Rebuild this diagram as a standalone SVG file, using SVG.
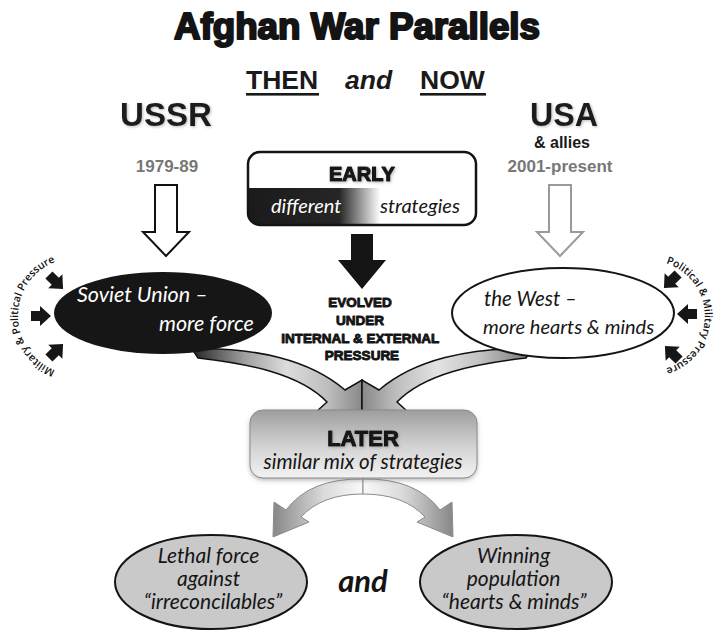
<svg xmlns="http://www.w3.org/2000/svg" width="715" height="631" viewBox="0 0 715 631">
<defs>
<style>
.heavy{font-family:"Liberation Sans",Arial,sans-serif;font-weight:bold;fill:#141414;stroke:#141414;stroke-linejoin:round}
.bold{font-family:"Liberation Sans",Arial,sans-serif;font-weight:bold;fill:#1a1a1a}
.it{font-family:Lato,"Open Sans",sans-serif;font-style:italic;fill:#161616}
.press{font-family:"Open Sans","Liberation Sans",sans-serif;font-weight:600;font-size:10.5px;fill:#111}
.pa{fill:#161616}
</style>
<linearGradient id="earlyBand" gradientUnits="userSpaceOnUse" x1="248" y1="0" x2="476" y2="0">
<stop offset="0" stop-color="#1a1a1a"/><stop offset="0.40" stop-color="#262626"/><stop offset="0.58" stop-color="#ffffff"/><stop offset="1" stop-color="#ffffff"/>
</linearGradient>
<linearGradient id="laterGrad" x1="0" y1="0" x2="0" y2="1">
<stop offset="0" stop-color="#9e9e9e"/><stop offset="0.55" stop-color="#d4d4d4"/><stop offset="1" stop-color="#f2f2f2"/>
</linearGradient>
<linearGradient id="bandL" gradientUnits="userSpaceOnUse" x1="195" y1="0" x2="362" y2="0">
<stop offset="0" stop-color="#2a2a2a"/><stop offset="0.3" stop-color="#a0a0a0"/><stop offset="0.55" stop-color="#dcdcdc"/><stop offset="0.8" stop-color="#bdbdbd"/><stop offset="1" stop-color="#888"/>
</linearGradient>
<linearGradient id="bandR" gradientUnits="userSpaceOnUse" x1="195" y1="0" x2="362" y2="0">
<stop offset="0" stop-color="#7a7a7a"/><stop offset="0.3" stop-color="#c4c4c4"/><stop offset="0.55" stop-color="#e2e2e2"/><stop offset="0.8" stop-color="#bdbdbd"/><stop offset="1" stop-color="#888"/>
</linearGradient>
<linearGradient id="arcGrad" gradientUnits="userSpaceOnUse" x1="363" y1="0" x2="275" y2="0">
<stop offset="0" stop-color="#fafafa"/><stop offset="0.45" stop-color="#dadada"/><stop offset="1" stop-color="#8a8a8a"/>
</linearGradient>
<clipPath id="earlyClip"><rect x="248" y="152" width="228" height="73" rx="12"/></clipPath>
<filter id="glow" x="-20%" y="-30%" width="140%" height="160%">
<feDropShadow dx="1" dy="1" stdDeviation="1.5" flood-color="#888" flood-opacity="0.6"/>
</filter>
<filter id="boxShadow" x="-10%" y="-10%" width="120%" height="130%">
<feDropShadow dx="0" dy="2" stdDeviation="2" flood-color="#777" flood-opacity="0.5"/>
</filter>
<polygon id="pa" points="-10,-5 -1,-5 -1,-10 10,0 -1,10 -1,5 -10,5"/>
</defs>
<rect width="715" height="631" fill="#fff"/>

<g id="title">
<text class="heavy" x="357" y="39" font-size="37" stroke-width="2.2" text-anchor="middle" textLength="366" lengthAdjust="spacingAndGlyphs">Afghan War Parallels</text>
</g>
<g id="then-now">
<text class="bold" x="246" y="89" font-size="26.5">THEN</text>
<rect x="246" y="93" width="73" height="2.6" fill="#1a1a1a"/>
<text class="bold" x="345" y="89" font-size="26.5" font-style="italic">and</text>
<text class="bold" x="420" y="89" font-size="26.5">NOW</text>
<rect x="420" y="93" width="66" height="2.6" fill="#1a1a1a"/>
</g>
<g id="ussr-label" filter="url(#glow)">
<text class="bold" x="120" y="126" font-size="34" textLength="92" lengthAdjust="spacingAndGlyphs">USSR</text>
</g>
<g id="usa-label">
<text class="bold" x="530" y="126" font-size="34" textLength="68" lengthAdjust="spacingAndGlyphs" filter="url(#glow)">USA</text>
<text class="bold" x="562" y="148" font-size="16" text-anchor="middle">&amp; allies</text>
</g>
<g id="dates">
<text class="bold" x="167" y="172" font-size="17" style="fill:#777" text-anchor="middle">1979-89</text>
<text class="bold" x="560" y="172" font-size="17" style="fill:#777" text-anchor="middle">2001-present</text>
</g>

<g id="connectors">
<polygon points="155,185 177,185 177,232 189,232 166,256 143,232 155,232" fill="#fff" stroke="#111" stroke-width="2"/>
<polygon points="549,185 571,185 571,232 583,232 560,256 537,232 549,232" fill="#fff" stroke="#9a9a9a" stroke-width="2"/>
<polygon points="351,234 373,234 373,260 386,260 362,289 338,260 351,260" fill="#141414"/>
<path d="M192 349 C255 347 310 360 345 390 L362 380 L362 412 L316 412 L327 402 C300 374 250 364 198 358 Z" fill="url(#bandL)" stroke="#111" stroke-width="1.5"/>
<path transform="translate(724,0) scale(-1,1)" d="M192 349 C255 347 310 360 345 390 L362 380 L362 412 L316 412 L327 402 C300 374 250 364 198 358 Z" fill="url(#bandR)" stroke="#111" stroke-width="1.5"/>
<path d="M363 479 Q310 478 286 510 L274 502 L273 537 L309 522 L301 517 Q322 494 363 494 Z" fill="url(#arcGrad)" stroke="#8a8a8a" stroke-width="1"/>
<path transform="translate(726,0) scale(-1,1)" d="M363 479 Q310 478 286 510 L274 502 L273 537 L309 522 L301 517 Q322 494 363 494 Z" fill="url(#arcGrad)" stroke="#8a8a8a" stroke-width="1"/>
</g>

<g id="early">
<rect x="248" y="152" width="228" height="73" rx="12" fill="#fff"/>
<rect x="248" y="188" width="228" height="37" fill="url(#earlyBand)" clip-path="url(#earlyClip)"/>
<rect x="248" y="152" width="228" height="73" rx="12" fill="none" stroke="#141414" stroke-width="2.5"/>
<text class="heavy" x="362" y="181" font-size="20" stroke-width="1.2" text-anchor="middle" filter="url(#glow)">EARLY</text>
<text class="it" x="271" y="213" font-size="20" style="fill:#fff">different</text>
<text class="it" x="380" y="213" font-size="20">strategies</text>
</g>

<g id="evolved">
<text class="heavy" font-size="13.5" stroke-width="0.9" text-anchor="middle">
<tspan x="362" y="307">EVOLVED</tspan>
<tspan x="362" y="325">UNDER</tspan>
<tspan x="362" y="343">INTERNAL &amp; EXTERNAL</tspan>
<tspan x="362" y="360">PRESSURE</tspan>
</text>
</g>

<g id="soviet">
<ellipse cx="163" cy="313" rx="109" ry="41" fill="#161616"/>
<text class="it" x="77" y="302" font-size="21.5" style="fill:#fff">Soviet Union –</text>
<text class="it" x="159" y="331" font-size="21.5" style="fill:#fff">more force</text>
</g>

<g id="west">
<ellipse cx="563" cy="313" rx="111" ry="45" fill="#fff" stroke="#141414" stroke-width="2"/>
<text class="it" x="484" y="306" font-size="20.5">the West –</text>
<text class="it" x="483" y="334" font-size="20">more hearts &amp; minds</text>
</g>

<g id="pressure-left">
<path id="arcL" d="M86.1 373.1 A58 58 0 1 1 86.1 258.9" fill="none"/>
<text class="press"><textPath href="#arcL" startOffset="50%" text-anchor="middle">Military &amp; Political Pressure</textPath></text>
<use href="#pa" class="pa" transform="translate(56,282) rotate(45)"/>
<use href="#pa" class="pa" transform="translate(41,316)"/>
<use href="#pa" class="pa" transform="translate(56,351) rotate(-45)"/>
</g>

<g id="pressure-right">
<path id="arcR" d="M640.4 261.8 A55 55 0 1 1 640.4 370.2" fill="none"/>
<text class="press"><textPath href="#arcR" startOffset="50%" text-anchor="middle">Political &amp; Military Pressure</textPath></text>
<use href="#pa" class="pa" transform="translate(671,281) rotate(135)"/>
<use href="#pa" class="pa" transform="translate(687,314) rotate(180)"/>
<use href="#pa" class="pa" transform="translate(672,353) rotate(-135)"/>
</g>

<g id="later">
<rect x="250" y="410" width="227" height="68" rx="13" fill="url(#laterGrad)" stroke="#8a8a8a" stroke-width="1" filter="url(#boxShadow)"/>
<text class="heavy" x="363" y="446" font-size="22" stroke-width="1.1" text-anchor="middle" filter="url(#glow)">LATER</text>
<text class="it" x="363" y="469" font-size="20.5" text-anchor="middle">similar mix of strategies</text>
</g>

<g id="lethal">
<ellipse cx="211" cy="582" rx="96" ry="47" fill="#c9c9c9" stroke="#141414" stroke-width="2"/>
<text class="it" font-size="21" text-anchor="middle">
<tspan x="211" y="563">Lethal force</tspan>
<tspan x="211" y="586">against</tspan>
<tspan x="213" y="609">“irreconcilables”</tspan>
</text>
</g>

<g id="and-bottom">
<text x="363" y="592" font-family="Lato,'Open Sans',sans-serif" font-weight="bold" font-style="italic" font-size="31" fill="#141414" text-anchor="middle">and</text>
</g>

<g id="winning">
<ellipse cx="516" cy="582" rx="96" ry="47" fill="#c9c9c9" stroke="#141414" stroke-width="2"/>
<text class="it" font-size="21" text-anchor="middle">
<tspan x="516" y="563">Winning</tspan>
<tspan x="516" y="586">population</tspan>
<tspan x="514" y="609">“hearts &amp; minds”</tspan>
</text>
</g>
</svg>
